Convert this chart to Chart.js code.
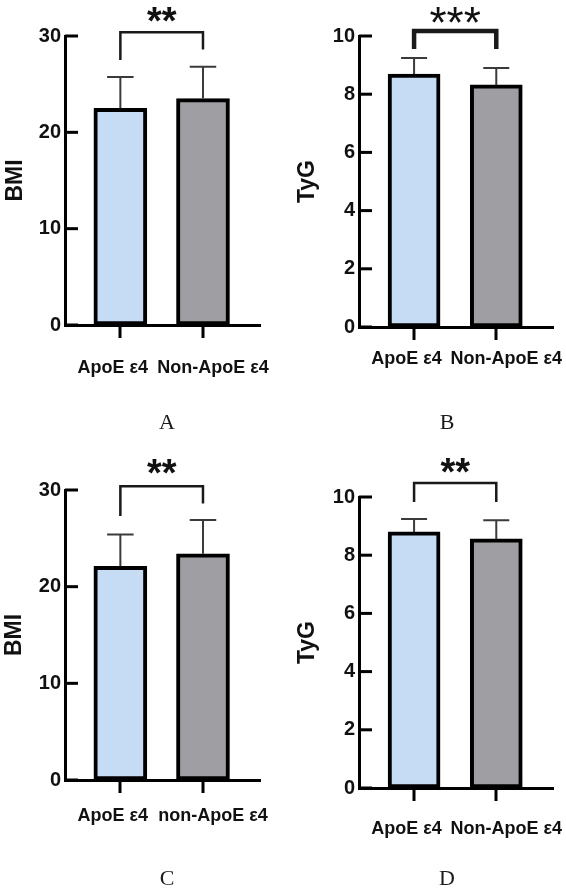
<!DOCTYPE html>
<html>
<head>
<meta charset="utf-8">
<script src="https://cdn.jsdelivr.net/npm/chart.js@4.4.1/dist/chart.umd.min.js"></script>
<style>
  html, body { margin: 0; padding: 0; background: #fff; }
  #wrap { position: relative; width: 566px; height: 893px; overflow: hidden; }
  canvas { position: absolute; }
  .letter {
    position: absolute; width: 40px; margin-left: -20px; text-align: center;
    font-family: 'Liberation Serif', 'Times New Roman', serif;
    font-size: 22px; line-height: 22px; color: #1a1a1a;
  }
</style>
</head>
<body>
<div id="wrap">
  <canvas id="panelA" width="283" height="446" style="left:0;top:0"></canvas>
  <canvas id="panelB" width="283" height="446" style="left:283px;top:0"></canvas>
  <canvas id="panelC" width="283" height="447" style="left:0;top:446px"></canvas>
  <canvas id="panelD" width="283" height="447" style="left:283px;top:446px"></canvas>
  <div class="letter" style="left:167px;top:411px">A</div>
  <div class="letter" style="left:447px;top:411px">B</div>
  <div class="letter" style="left:167px;top:867px">C</div>
  <div class="letter" style="left:447px;top:867px">D</div>
</div>
<script>
// data (mean, upper SD)
const groupsAB = ['ApoE ε4', 'Non-ApoE ε4'];
const groupsC = ['ApoE ε4', 'non-ApoE ε4'];
const groupsD = ['ApoE ε4', 'Non-ApoE ε4'];

const bmiMeanA = [22.5, 23.5];
const bmiSdA = [3.25, 3.3];
const tygMeanB = [8.69, 8.32];
const tygSdB = [0.55, 0.58];
const bmiMeanC = [22.1, 23.4];
const bmiSdC = [3.3, 3.5];
const tygMeanD = [8.8, 8.56];
const tygSdD = [0.44, 0.64];

const bmiTicks = [0, 10, 20, 30];
const tygTicks = [0, 2, 4, 6, 8, 10];

const sigA = '**';
const sigB = '***';
const sigC = '**';
const sigD = '**';

const barColors = ['#c6dbf4', '#9e9ea3'];
const FONT = "'Liberation Sans', Arial, sans-serif";

// error bars, axis ticks, significance bracket
const panelDeco = {
  id: 'panelDeco',
  afterDraw(chart, args, o) {
    const { ctx, chartArea } = chart;
    const xs = chart.scales.x, ys = chart.scales.y;
    const bars = chart.getDatasetMeta(0).data;
    ctx.save();

    // y ticks point inwards, x ticks point down
    ctx.fillStyle = '#000';
    o.yTicks.forEach(v => {
      const py = ys.getPixelForValue(v);
      ctx.fillRect(chartArea.left, py - 1.5, 13, 3);
    });
    bars.forEach(bar => {
      ctx.fillRect(Math.round(bar.x) - 1.5, chartArea.bottom, 3, 13);
    });

    ctx.strokeStyle = '#3a3a3a';
    ctx.lineWidth = 2;
    bars.forEach((bar, i) => {
      const top = ys.getPixelForValue(o.means[i] + o.sds[i]);
      const half = bar.width / 4;
      ctx.beginPath();
      ctx.moveTo(bar.x, bar.y);
      ctx.lineTo(bar.x, top);
      ctx.moveTo(bar.x - half, top);
      ctx.lineTo(bar.x + half, top);
      ctx.stroke();
    });

    const b = o.bracket;
    const x1 = xs.getPixelForValue(1), x2 = xs.getPixelForValue(2);
    ctx.strokeStyle = '#1a1a1a';
    ctx.lineWidth = b.width;
    ctx.beginPath();
    ctx.moveTo(x1, ys.getPixelForValue(b.leftEnd));
    ctx.lineTo(x1, ys.getPixelForValue(b.top));
    ctx.lineTo(x2, ys.getPixelForValue(b.top));
    ctx.lineTo(x2, ys.getPixelForValue(b.rightEnd));
    ctx.stroke();

    ctx.fillStyle = '#111';
    ctx.font = b.starWeight + ' ' + b.starSize + 'px ' + FONT;
    ctx.textAlign = 'center';
    ctx.textBaseline = 'alphabetic';
    ctx.fillText(o.stars, (x1 + x2) / 2, ys.getPixelForValue(b.starAt) + 0.57 * b.starSize);
    ctx.restore();
  }
};

function drawPanel(id, p) {
  const box = p.box;
  new Chart(document.getElementById(id), {
    type: 'bar',
    data: {
      datasets: [{
        data: p.means.map((m, i) => ({ x: i + 1, y: m })),
        backgroundColor: barColors,
        borderColor: '#000',
        borderWidth: 4,
        borderSkipped: false,
        barThickness: box.barW
      }]
    },
    options: {
      responsive: false,
      animation: false,
      events: [],
      layout: { padding: { left: 0, top: box.top, right: box.right, bottom: 0 } },
      plugins: {
        legend: { display: false },
        tooltip: { enabled: false },
        panelDeco: { means: p.means, sds: p.sds, yTicks: p.ticks, stars: p.stars, bracket: p.bracket }
      },
      scales: {
        x: {
          type: 'linear',
          min: 0.33,
          max: 2.69,
          offset: false,
          grid: { display: false, offset: false, drawTicks: false },
          border: { display: true, color: '#000', width: 3 },
          afterBuildTicks: s => { s.ticks = p.labels.map((_, i) => ({ value: i + 1 })); },
          ticks: {
            autoSkip: false,
            maxRotation: 0,
            padding: box.labelPad + 12,
            color: '#111',
            font: { family: FONT, size: 18, weight: 'bold' },
            callback: v => v === 1 ? p.labels[0] + '   ' : '    ' + p.labels[1]
          },
          afterFit: s => { s.height = box.xHeight; s.paddingLeft = 0; s.paddingRight = 0; }
        },
        y: {
          min: 0,
          max: p.ticks[p.ticks.length - 1],
          grid: { display: false, drawTicks: false },
          border: { display: true, color: '#000', width: 3 },
          afterBuildTicks: s => { s.ticks = p.ticks.map(v => ({ value: v })); },
          ticks: {
            padding: 4,
            color: '#111',
            font: { family: FONT, size: 20, weight: 'bold' }
          },
          title: {
            display: true,
            text: p.title,
            color: '#111',
            font: { family: FONT, size: 23, weight: 'bold' },
            padding: { top: box.titlePad, bottom: 0 }
          },
          afterFit: s => { s.width = box.left; s.paddingTop = 0; s.paddingBottom = 0; }
        }
      }
    },
    plugins: [panelDeco]
  });
}

drawPanel('panelA', {
  labels: groupsAB, means: bmiMeanA, sds: bmiSdA, ticks: bmiTicks, title: 'BMI', stars: sigA,
  bracket: { top: 30.4, leftEnd: 27.5, rightEnd: 28.6, width: 2.5, starAt: 32.5, starSize: 38, starWeight: 'bold' },
  box: { left: 65, top: 36, right: 23, xHeight: 121, barW: 53, labelPad: 20, titlePad: 2 }
});

drawPanel('panelB', {
  labels: groupsAB, means: tygMeanB, sds: tygSdB, ticks: tygTicks, title: 'TyG', stars: sigB,
  bracket: { top: 10.17, leftEnd: 9.55, rightEnd: 9.55, width: 4.5, starAt: 10.8, starSize: 44, starWeight: 'normal' },
  box: { left: 76, top: 36, right: 13, xHeight: 119, barW: 52, labelPad: 9, titlePad: 11 }
});

drawPanel('panelC', {
  labels: groupsC, means: bmiMeanC, sds: bmiSdC, ticks: bmiTicks, title: 'BMI', stars: sigC,
  bracket: { top: 30.4, leftEnd: 27.3, rightEnd: 28.6, width: 2.5, starAt: 32.7, starSize: 38, starWeight: 'bold' },
  box: { left: 65, top: 44, right: 23, xHeight: 113, barW: 53, labelPad: 13, titlePad: 1 }
});

drawPanel('panelD', {
  labels: groupsD, means: tygMeanD, sds: tygSdD, ticks: tygTicks, title: 'TyG', stars: sigD,
  bracket: { top: 10.48, leftEnd: 9.83, rightEnd: 9.83, width: 2.5, starAt: 11.17, starSize: 38, starWeight: 'bold' },
  box: { left: 76, top: 51, right: 13, xHeight: 105, barW: 52, labelPad: 18, titlePad: 11 }
});
</script>
</body>
</html>
